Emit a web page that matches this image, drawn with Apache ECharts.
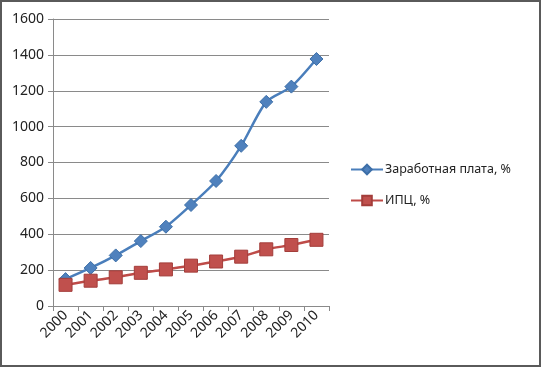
<!DOCTYPE html>
<html><head><meta charset="utf-8">
<script src="https://cdn.jsdelivr.net/npm/echarts@6/dist/echarts.min.js"></script>
<style>html,body{margin:0;padding:0;background:#fff}#c{width:541px;height:367px}</style>
</head><body><div id="c"></div>
<script>
const years = ['2000','2001','2002','2003','2004','2005','2006','2007','2008','2009','2010'];
const wages = [150, 212, 282, 362, 442, 563, 697, 893, 1138, 1223, 1377];
const cpi = [118, 141, 160, 185, 204, 225, 248, 275, 316, 340, 369];
const yTicks = {min: 0, max: 1600, interval: 200};
const seriesNames = ['Заработная плата, %', 'ИПЦ, %'];

const font = 'Noto Sans';
const chart = echarts.init(document.getElementById('c'));
chart.setOption({
  animation: false,
  backgroundColor: '#fff',
  graphic: [{type: 'rect', shape: {x: 1, y: 1, width: 539, height: 365}, style: {fill: 'none', stroke: '#5a5a5a', lineWidth: 2}, silent: true}],
  grid: {left: 53, right: 212, top: 19, bottom: 61},
  legend: {
    orient: 'vertical', left: 345, top: 158, itemGap: 18, itemWidth: 32, itemHeight: 12,
    textStyle: {fontFamily: font, fontSize: 12.5, color: '#222', padding: [0, 0, 0, -3]},
    data: seriesNames
  },
  xAxis: {
    type: 'category', data: years, boundaryGap: true,
    axisLine: {lineStyle: {color: '#8a8a8a'}},
    axisTick: {show: true, length: 5, lineStyle: {color: '#8a8a8a'}},
    axisLabel: {rotate: 45, fontFamily: font, fontSize: 14, color: '#222', margin: 7, interval: 0}
  },
  yAxis: {
    type: 'value', min: yTicks.min, max: yTicks.max, interval: yTicks.interval,
    axisLine: {show: true, lineStyle: {color: '#8a8a8a'}},
    axisTick: {show: true, length: 5, lineStyle: {color: '#8a8a8a'}},
    axisLabel: {fontFamily: font, fontSize: 14, color: '#222', margin: 9, formatter: v => String(v)},
    splitLine: {lineStyle: {color: '#8a8a8a', width: 1}}
  },
  series: [
    {name: seriesNames[0], type: 'line', data: wages, smooth: 0.25,
     symbol: 'diamond', symbolSize: 13,
     lineStyle: {color: '#4a7ebb', width: 2.5},
     itemStyle: {color: '#4f81bd', borderColor: '#3d6fa8', borderWidth: 1}},
    {name: seriesNames[1], type: 'line', data: cpi, smooth: 0.25,
     symbol: 'rect', symbolSize: 13,
     lineStyle: {color: '#be4b48', width: 2.5},
     itemStyle: {color: '#c0504d', borderColor: '#a33d3a', borderWidth: 1}}
  ]
});
</script></body></html>
